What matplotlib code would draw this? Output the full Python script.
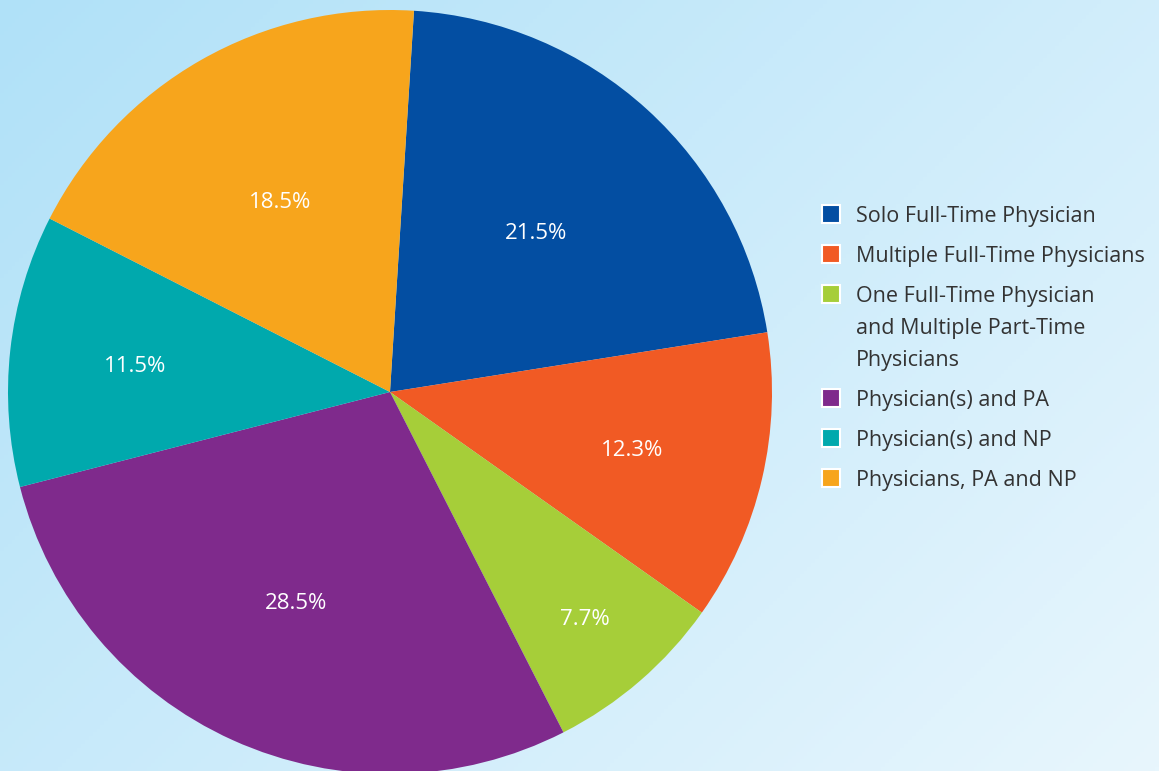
import numpy as np
import matplotlib
matplotlib.use("Agg")
import matplotlib.pyplot as plt
from matplotlib.patches import Rectangle

categories = [
    "Solo Full-Time Physician",
    "Multiple Full-Time Physicians",
    "One Full-Time Physician\nand Multiple Part-Time\nPhysicians",
    "Physician(s) and PA",
    "Physician(s) and NP",
    "Physicians, PA and NP",
]
shares = [21.5, 12.3, 7.7, 28.5, 11.5, 18.5]
colors = ["#034ea2", "#f15a24", "#a6ce39", "#7f2a8c", "#00a9ad", "#f7a51c"]
# label distance from centre (fraction of radius), per wedge
label_dist = [0.57, 0.65, 0.78, 0.60, 0.67, 0.58]

plt.rcParams["font.family"] = ["Open Sans", "DejaVu Sans"]

W, H = 1159, 771
fig = plt.figure(figsize=(W / 100, H / 100), dpi=100)

# background gradient, light blue top-left to paler bottom-right
bg = fig.add_axes([0, 0, 1, 1])
yy, xx = np.mgrid[0:1:200j, 0:1:300j]
t = (xx * 0.6 + yy * 0.4)
c0 = np.array([0xb0, 0xe1, 0xf8]) / 255
c1 = np.array([0xe8, 0xf6, 0xfd]) / 255
img = c0[None, None, :] * (1 - t[..., None]) + c1[None, None, :] * t[..., None]
bg.imshow(img, aspect="auto", extent=[0, 1, 0, 1], origin="upper")
bg.set_axis_off()

# pie: center (390, 392) px, radius 382 px
cx, cy, r = 390, 392, 382
ax = fig.add_axes([(cx - r) / W, (H - cy - r) / H, 2 * r / W, 2 * r / H])
wedges, _ = ax.pie(
    shares,
    colors=colors,
    startangle=86.4,
    counterclock=False,
    wedgeprops=dict(linewidth=0),
)
for w, v, d in zip(wedges, shares, label_dist):
    ang = np.deg2rad((w.theta1 + w.theta2) / 2)
    ax.text(d * np.cos(ang), d * np.sin(ang), f"{v}%",
            color="white", fontsize=16, ha="center", va="center_baseline")
ax.set_xlim(-1, 1)
ax.set_ylim(-1, 1)
ax.set_axis_off()

# legend, drawn by hand so the swatch lines up with the first text line
y = 214
for label, c in zip(categories, colors):
    fig.add_artist(Rectangle((822 / W, 1 - (y + 9) / H), 18 / W, 18 / H,
                             facecolor=c, edgecolor="white", linewidth=1.5,
                             transform=fig.transFigure))
    for k, line in enumerate(label.split("\n")):
        fig.text(856 / W, 1 - (y + 32 * k) / H, line, fontsize=15.5,
                 color="#333333", ha="left", va="center_baseline")
    y += 40 + 32 * label.count("\n")

fig.savefig("out.png", dpi=100)
